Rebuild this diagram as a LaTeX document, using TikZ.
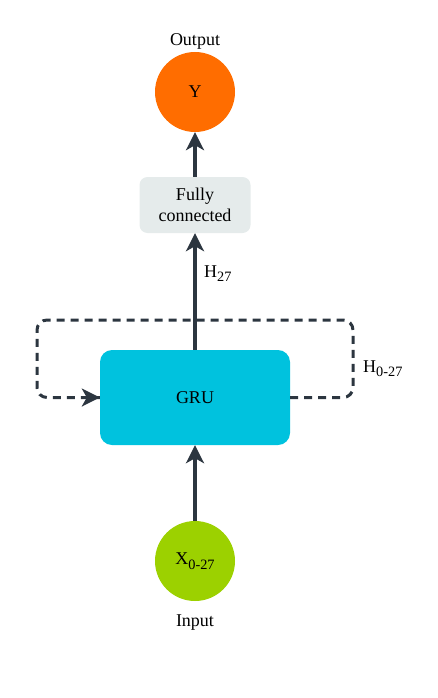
\documentclass[tikz,border=0pt]{standalone}
\usepackage{fontspec}
\setmainfont{Liberation Serif}
\usetikzlibrary{arrows.meta}
\definecolor{dark}{HTML}{2C3640}
\definecolor{orangeY}{HTML}{FF6D00}
\definecolor{greenX}{HTML}{9CD100}
\definecolor{cyanG}{HTML}{00C2DE}
\definecolor{fcgray}{HTML}{E5EBEB}
\newcommand{\sub}[1]{\raisebox{-4.4pt}{\fontsize{14.3}{14}\selectfont #1}}
\begin{document}
\begin{tikzpicture}[x=1pt,y=-1pt,
  every node/.style={font=\fontsize{18}{21}\selectfont, inner sep=0pt},
  circ/.style={circle, minimum size=80pt},
  tip/.style={-{Stealth[length=18pt,width=18pt,inset=5pt]}},
  conn/.style={draw=dark, line width=3.2pt, tip},
  dashloop/.style={draw=dark, line width=3pt, dash pattern=on 8pt off 6pt, rounded corners=10pt},
  lbl/.style={text=black}]
\useasboundingbox (0,0) rectangle (438,698);
\node[circ, fill=orangeY] (Y) at (195,92) {Y};
\node[lbl, anchor=base] (outlbl) at (195,46) {Output};
\node[draw=none, fill=fcgray, rounded corners=8pt, minimum width=111pt, minimum height=56pt, align=center] (fc) at (195,205) {Fully\\connected};
\node[fill=cyanG, rounded corners=12pt, minimum width=190pt, minimum height=95pt] (gru) at (195,397.5) {GRU};
\node[circ, fill=greenX] (X) at (195,561) {X\sub{0-27}};
\node[lbl, anchor=base] (inlbl) at (195,626) {Input};
\node[lbl, anchor=base west] (h27) at (204,277) {H\sub{27}};
\node[lbl, anchor=base west] (h027) at (363,372) {H\sub{0-27}};
\coordinate (tr) at (353,320);
\coordinate (tl) at (37,320);
\draw[dashloop] (gru.east) -- (tr |- gru.east) -- (tr) -- (tl) -- (tl |- gru.west) -- (gru.west);
\draw[dark, line width=3pt, dash pattern=on 8pt off 6pt, tip] ([xshift=-16pt]gru.west) -- (gru.west);
\draw[conn] (X.north) -- (gru.south);
\draw[conn] (gru.north) -- (fc.south);
\draw[conn] (fc.north) -- (Y.south);
\end{tikzpicture}
\end{document}
